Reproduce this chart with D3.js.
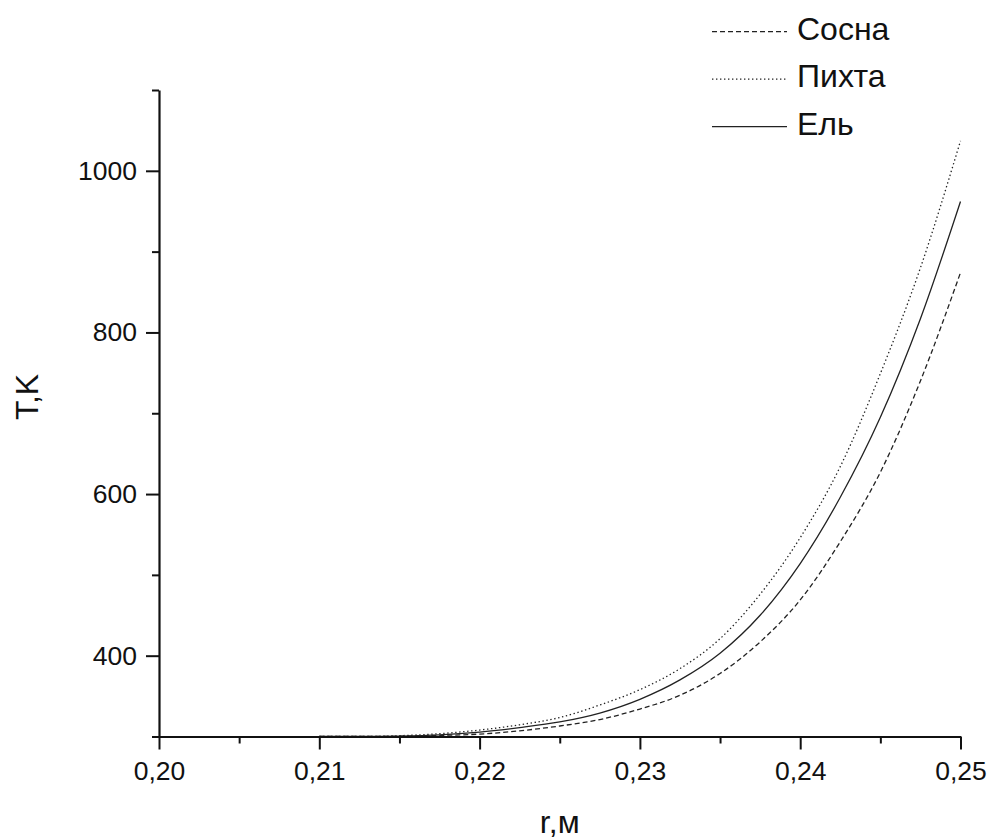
<!DOCTYPE html>
<html>
<head>
<meta charset="utf-8">
<script src="https://cdn.jsdelivr.net/npm/d3@7"></script>
<style>
  html, body { margin: 0; padding: 0; background: #fff; }
  svg { display: block; font-family: "Liberation Sans", Arial, sans-serif; }
</style>
</head>
<body>
<svg id="chart" width="991" height="840"></svg>
<script>
// Radius grid, m
const radius = [0.210, 0.2125, 0.215, 0.2175, 0.220, 0.2225, 0.225, 0.2275, 0.230,
                0.2325, 0.235, 0.2375, 0.240, 0.2425, 0.245, 0.2475, 0.250];

// Temperature, K, for each wood species
const sosna = [300, 300, 300.3, 301.3, 303, 307, 313, 321, 334, 351, 378, 417, 469, 541, 627, 740, 874];
const pikhta = [300, 300, 301, 303.5, 308, 314.5, 323.5, 339, 358, 384, 421, 476, 546, 634, 749, 880, 1037];
const el = [300, 300, 300.5, 302, 305.5, 311, 318, 329, 346, 370, 403, 450, 514, 596, 695, 817, 962];

const seriesNames = ["Сосна", "Пихта", "Ель"];
const seriesValues = [sosna, pikhta, el];
const seriesDash = ["5,3", "1.4,2.6", null];

const xMajorTicks = [0.20, 0.21, 0.22, 0.23, 0.24, 0.25];
const xMinorTicks = [0.205, 0.215, 0.225, 0.235, 0.245];
const yMajorTicks = [400, 600, 800, 1000];
const yMinorTicks = [300, 500, 700, 900, 1100];

const xTitle = "r,м";
const yTitle = "T,K";

const svg = d3.select("#chart");
const plotLeft = 159, plotRight = 960.5, plotTop = 90, plotBottom = 736.5;

const x = d3.scaleLinear().domain([0.20, 0.25]).range([plotLeft, plotRight]);
const y = d3.scaleLinear().domain([300, 1100]).range([plotBottom, plotTop]);

const ru = d3.formatLocale({ decimal: ",", thousands: " ", grouping: [3], currency: ["", ""] });
const fmtX = ru.format(".2f");
const ink = "#111";

// Curves
const line = d3.line()
  .x(d => x(d[0]))
  .y(d => y(d[1]))
  .curve(d3.curveMonotoneX);

const curves = svg.append("g");
seriesValues.forEach((vals, i) => {
  curves.append("path")
    .datum(radius.map((r, k) => [r, vals[k]]))
    .attr("d", line)
    .attr("fill", "none")
    .attr("stroke", "#222")
    .attr("stroke-width", 1.3)
    .attr("stroke-dasharray", seriesDash[i]);
});

// Axes
function styleAxis(g) {
  g.selectAll(".domain").attr("stroke", ink).attr("stroke-width", 2.2);
  g.selectAll(".tick line").attr("stroke", ink).attr("stroke-width", 2);
  g.selectAll(".tick text").attr("fill", "#111")
    .style("font-size", "26.5px").style("font-family", "'Liberation Sans', Arial, sans-serif");
}

const xAxisMinor = d3.axisBottom(x).tickValues(xMinorTicks).tickSize(7).tickFormat("");
const xAxis = d3.axisBottom(x).tickValues(xMajorTicks).tickSizeInner(13).tickSizeOuter(0)
  .tickPadding(11).tickFormat(fmtX);
svg.append("g").attr("transform", `translate(0,${plotBottom})`).call(xAxisMinor)
  .call(g => g.select(".domain").remove()).call(styleAxis);
svg.append("g").attr("transform", `translate(0,${plotBottom})`).call(xAxis).call(styleAxis)
  .call(g => g.selectAll(".tick text").attr("dy", "0.72em"));

const yAxisMinor = d3.axisLeft(y).tickValues(yMinorTicks).tickSize(7).tickFormat("");
const yAxis = d3.axisLeft(y).tickValues(yMajorTicks).tickSizeInner(13).tickSizeOuter(0)
  .tickPadding(9).tickFormat(d3.format("d"));
svg.append("g").attr("transform", `translate(${plotLeft},0)`).call(yAxisMinor)
  .call(g => g.select(".domain").remove()).call(styleAxis);
svg.append("g").attr("transform", `translate(${plotLeft},0)`).call(yAxis).call(styleAxis);

// Axis titles
svg.append("text")
  .attr("x", (plotLeft + plotRight) / 2).attr("y", 833)
  .attr("text-anchor", "middle")
  .attr("fill", "#111").style("font-size", "32px")
  .text(xTitle);
svg.append("text")
  .attr("transform", "translate(38,397) rotate(-90)")
  .attr("text-anchor", "middle")
  .attr("fill", "#111").style("font-size", "32px")
  .text(yTitle);

// Legend
const legend = svg.append("g");
seriesNames.forEach((name, i) => {
  const cy = 31.7 + i * 47.5;
  legend.append("line")
    .attr("x1", 712).attr("x2", 787).attr("y1", cy).attr("y2", cy)
    .attr("stroke", "#222").attr("stroke-width", 1.3)
    .attr("stroke-dasharray", seriesDash[i]);
  legend.append("text")
    .attr("x", 797).attr("y", cy + 8)
    .attr("fill", "#111").style("font-size", "32px")
    .text(name);
});
</script>
</body>
</html>
